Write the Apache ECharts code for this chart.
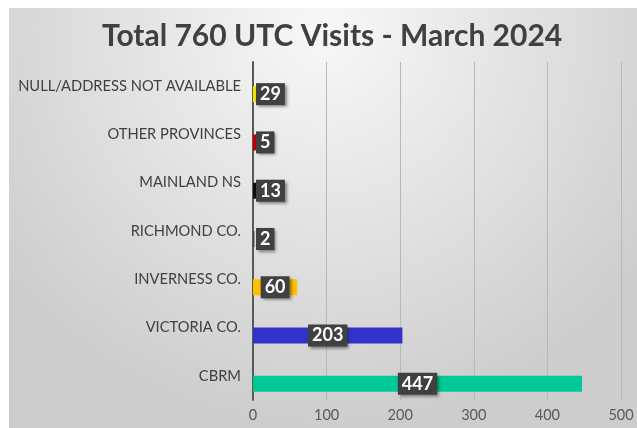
<!DOCTYPE html>
<html>
<head>
<meta charset="utf-8">
<title>Total 760 UTC Visits - March 2024</title>
<script src="https://cdn.jsdelivr.net/npm/echarts@6/dist/echarts.min.js"></script>
<style>
    html, body { margin: 0; padding: 0; background: #fff; }
    #container { width: 637px; height: 428px; }
</style>
</head>
<body>
<div id="container"></div>
<script type="text/javascript">
    // bottom to top, as in the picture
    var categories = ['CBRM', 'VICTORIA CO.', 'INVERNESS CO.', 'RICHMOND CO.', 'MAINLAND NS', 'OTHER PROVINCES', 'NULL/ADDRESS NOT AVAILABLE'];
    var visits = [447, 203, 60, 2, 13, 5, 29];
    var barColors = ['#00c896', '#3333cc', '#ffc000', '#3b4a4a', '#0d0d0d', '#c00000', '#f0e600'];
    var xTicks = [0, 100, 200, 300, 400, 500];

    var gridLeft = 253;
    var myChart = echarts.init(document.getElementById('container'));

    var option = {
        animation: false,
        graphic: [{
            type: 'rect',
            z: -10,
            shape: { x: 9, y: 8, width: 628, height: 420 },
            style: {
                fill: {
                    type: 'radial', x: 0.5, y: 0.05, r: 0.95,
                    colorStops: [
                        { offset: 0, color: '#f8f8f8' },
                        { offset: 1, color: '#cdcdcd' }
                    ]
                }
            }
        }],
        title: {
            text: 'Total 760 UTC Visits - March 2024',
            left: 97,
            top: 16,
            textStyle: {
                fontFamily: 'Lato',
                fontSize: 30,
                fontWeight: 'bold',
                color: '#404040'
            }
        },
        grid: {
            left: gridLeft,
            right: 16,
            top: 62,
            bottom: 28
        },
        xAxis: {
            type: 'value',
            min: xTicks[0],
            max: xTicks[xTicks.length - 1],
            interval: 100,
            axisLine: { show: false },
            axisTick: { show: false },
            axisLabel: {
                fontFamily: 'Lato',
                fontSize: 14.5,
                color: '#595959',
                margin: 8
            },
            splitLine: { lineStyle: { color: '#b8b8b8', width: 1 } }
        },
        yAxis: {
            type: 'category',
            data: categories,
            axisLine: { lineStyle: { color: '#595959', width: 2 } },
            axisTick: { length: 4, lineStyle: { color: '#595959' } },
            axisLabel: {
                fontFamily: 'Lato',
                fontSize: 14.7,
                color: '#404040',
                margin: 12
            }
        },
        series: [
            {
                name: 'spacer',
                type: 'bar',
                barWidth: 16,
                barGap: '0%',
                data: visits.map(function () { return null; })
            },
            {
                name: 'Visits',
                type: 'bar',
                barWidth: 16,
                barGap: '0%',
                data: visits.map(function (v, i) {
                    return { value: v, itemStyle: { color: barColors[i] } };
                }),
                label: {
                    show: true,
                    position: 'inside',
                    color: '#fff',
                    fontFamily: 'Lato',
                    fontSize: 18,
                    fontWeight: 'bold',
                    backgroundColor: '#404040',
                    padding: [3, 4, 1, 4],
                    shadowBlur: 3,
                    shadowColor: 'rgba(0,0,0,0.45)',
                    shadowOffsetX: 2,
                    shadowOffsetY: 2
                },
                labelLayout: function (p) {
                    var minX = gridLeft + 3;
                    if (p.labelRect.x < minX) {
                        return { dx: minX - p.labelRect.x };
                    }
                }
            }
        ]
    };

    myChart.setOption(option);
</script>
</body>
</html>
